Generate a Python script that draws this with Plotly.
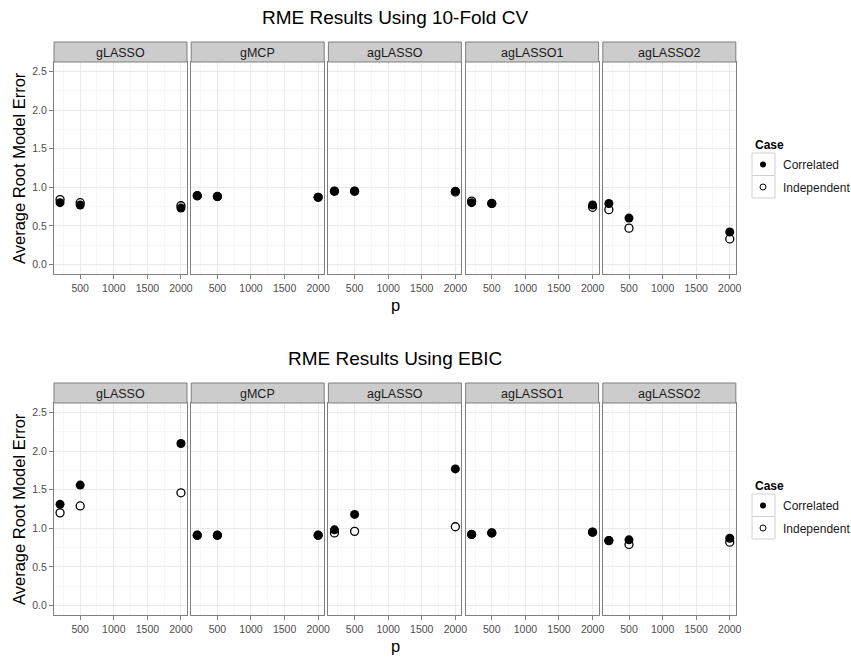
import plotly.graph_objects as go

# ---------------- data ----------------
methods = ["gLASSO", "gMCP", "agLASSO", "agLASSO1", "agLASSO2"]
p_values = [200, 500, 2000]
cases = ["Correlated", "Independent"]

cv_correlated = {
    "gLASSO":   [0.80, 0.77, 0.73],
    "gMCP":     [0.89, 0.88, 0.87],
    "agLASSO":  [0.95, 0.95, 0.95],
    "agLASSO1": [0.80, 0.79, 0.77],
    "agLASSO2": [0.79, 0.60, 0.42],
}
cv_independent = {
    "gLASSO":   [0.84, 0.80, 0.76],
    "gMCP":     [0.89, 0.88, 0.87],
    "agLASSO":  [0.95, 0.95, 0.94],
    "agLASSO1": [0.82, 0.79, 0.74],
    "agLASSO2": [0.71, 0.47, 0.33],
}
ebic_correlated = {
    "gLASSO":   [1.31, 1.56, 2.10],
    "gMCP":     [0.91, 0.91, 0.91],
    "agLASSO":  [0.98, 1.18, 1.77],
    "agLASSO1": [0.92, 0.94, 0.95],
    "agLASSO2": [0.84, 0.85, 0.87],
}
ebic_independent = {
    "gLASSO":   [1.20, 1.29, 1.46],
    "gMCP":     [0.91, 0.91, 0.91],
    "agLASSO":  [0.94, 0.96, 1.02],
    "agLASSO1": [0.92, 0.94, 0.95],
    "agLASSO2": [0.84, 0.79, 0.82],
}

row_titles = ["RME Results Using 10-Fold CV", "RME Results Using EBIC"]
x_ticks = [500, 1000, 1500, 2000]
y_ticks = [0.0, 0.5, 1.0, 1.5, 2.0, 2.5]
y_title = "Average Root Model Error"
x_title = "p"
legend_title = "Case"

rows = [(cv_correlated, cv_independent), (ebic_correlated, ebic_independent)]

# ---------------- layout geometry (pixels) ----------------
W, H = 851, 660
def fx(px):
    return px / W
def fy(py):
    return 1 - py / H

panel_left = 54.0
panel_w = 133.0
panel_gap = 4.2
row_offset = 341.0
strip_top = 42.0
strip_h = 20.0
plot_bottom = 274.0

FONT = "Liberation Sans, Arial, sans-serif"
GREY50 = "#7f7f7f"

fig = go.Figure()
layout = dict(
    width=W, height=H, autosize=False,
    margin=dict(l=0, r=0, t=0, b=0, autoexpand=False),
    paper_bgcolor="white", plot_bgcolor="white",
    font=dict(family=FONT, color="#1a1a1a"),
    showlegend=True,
)
shapes = []
annotations = []

for r in range(2):
    corr, ind = rows[r]
    off = r * row_offset
    for c, m in enumerate(methods):
        k = r * 5 + c + 1
        xname = "x" if k == 1 else f"x{k}"
        yname = "y" if k == 1 else f"y{k}"
        x0 = panel_left + c * (panel_w + panel_gap)
        x1 = x0 + panel_w
        ptop = strip_top + strip_h + off
        pbot = plot_bottom + off
        # independent first so correlated draws on top
        fig.add_trace(go.Scatter(
            x=p_values, y=ind[m], mode="markers", name="Independent",
            xaxis=xname, yaxis=yname, showlegend=False,
            marker=dict(symbol="circle", size=8, color="white",
                        line=dict(color="black", width=1.3)),
            hoverinfo="skip"))
        fig.add_trace(go.Scatter(
            x=p_values, y=corr[m], mode="markers", name="Correlated",
            xaxis=xname, yaxis=yname, showlegend=False,
            marker=dict(symbol="circle", size=9, color="black",
                        line=dict(color="black", width=0)),
            hoverinfo="skip"))
        xa = dict(
            domain=[fx(x0), fx(x1)], anchor=yname, range=[110, 2090],
            tickvals=x_ticks, ticktext=[str(v) for v in x_ticks],
            ticks="outside", ticklen=4, tickwidth=1, tickcolor=GREY50,
            tickfont=dict(size=10.5, color="#4d4d4d", family=FONT),
            showgrid=True, gridcolor="#e9e9e9", gridwidth=1,
            minor=dict(tickvals=[250, 750, 1250, 1750], showgrid=True,
                       gridcolor="#f6f6f6", gridwidth=1, ticks=""),
            showline=True, mirror=True, linecolor=GREY50, linewidth=1,
            zeroline=False, fixedrange=True, automargin=False,
        )
        ya = dict(
            domain=[fy(pbot), fy(ptop)], anchor=xname, range=[-0.125, 2.625],
            tickvals=y_ticks, ticktext=[f"{v:.1f}" for v in y_ticks],
            showticklabels=(c == 0), ticks=("outside" if c == 0 else ""),
            ticklen=4, tickwidth=1, tickcolor=GREY50,
            tickfont=dict(size=10.5, color="#4d4d4d", family=FONT),
            showgrid=True, gridcolor="#e9e9e9", gridwidth=1,
            minor=dict(tickvals=[0.25, 0.75, 1.25, 1.75, 2.25], showgrid=True,
                       gridcolor="#f6f6f6", gridwidth=1, ticks=""),
            showline=True, mirror=True, linecolor=GREY50, linewidth=1,
            zeroline=False, fixedrange=True, automargin=False,
        )
        layout["xaxis" if k == 1 else f"xaxis{k}"] = xa
        layout["yaxis" if k == 1 else f"yaxis{k}"] = ya
        # strip
        shapes.append(dict(type="rect", xref="paper", yref="paper",
                           x0=fx(x0), x1=fx(x1), y0=fy(ptop), y1=fy(strip_top + off),
                           fillcolor="#cccccc", line=dict(color=GREY50, width=1),
                           layer="above"))
        annotations.append(dict(text=m, xref="paper", yref="paper",
                                x=fx((x0 + x1) / 2), y=fy(strip_top + off + strip_h / 2 + 0.5),
                                xanchor="center", yanchor="middle", showarrow=False,
                                font=dict(size=12.5, color="#1a1a1a", family=FONT)))
    # titles
    annotations.append(dict(text=row_titles[r], xref="paper", yref="paper",
                            x=fx(395), y=fy(17.5 + off), xanchor="center", yanchor="middle",
                            showarrow=False, font=dict(size=19, color="black", family=FONT)))
    annotations.append(dict(text=x_title, xref="paper", yref="paper",
                            x=fx(395), y=fy(305 + off), xanchor="center", yanchor="middle",
                            showarrow=False, font=dict(size=16.5, color="black", family=FONT)))
    annotations.append(dict(text=y_title, xref="paper", yref="paper",
                            x=fx(19), y=fy(168 + off), xanchor="center", yanchor="middle",
                            textangle=-90, showarrow=False,
                            font=dict(size=16.5, color="black", family=FONT)))
    # legend title
    annotations.append(dict(text="<b>" + legend_title + "</b>", xref="paper", yref="paper",
                            x=fx(753), y=fy(145 + off), xanchor="left", yanchor="middle",
                            showarrow=False, font=dict(size=12, color="black", family=FONT)))
    # legend key boxes
    for i in range(2):
        shapes.append(dict(type="rect", xref="paper", yref="paper",
                           x0=fx(752), x1=fx(775), y0=fy(153 + off + 22.5 * i),
                           y1=fy(153 + off + 22.5 * (i + 1)),
                           fillcolor="rgba(0,0,0,0)", line=dict(color="#d0d0d0", width=1),
                           layer="below"))
    # legend entries
    lg = "legend" if r == 0 else "legend2"
    fig.add_trace(go.Scatter(x=[None], y=[None], mode="markers", name=cases[0],
                             legend=lg, legendgroup=f"c{r}", showlegend=True,
                             marker=dict(symbol="circle", size=6, color="black")))
    fig.add_trace(go.Scatter(x=[None], y=[None], mode="markers", name=cases[1],
                             legend=lg, legendgroup=f"i{r}", showlegend=True,
                             marker=dict(symbol="circle", size=6, color="white",
                                         line=dict(color="black", width=1))))

legend_common = dict(xanchor="left", yanchor="top", bgcolor="rgba(0,0,0,0)",
                     font=dict(size=12, color="#1a1a1a", family=FONT),
                     traceorder="grouped", tracegroupgap=3.5, itemsizing="trace",
                     borderwidth=0)
layout["legend"] = dict(x=fx(743), y=fy(150), **legend_common)
layout["legend2"] = dict(x=fx(743), y=fy(150 + row_offset), **legend_common)
layout["shapes"] = shapes
layout["annotations"] = annotations
fig.update_layout(**layout)

fig.write_html("out.html")
